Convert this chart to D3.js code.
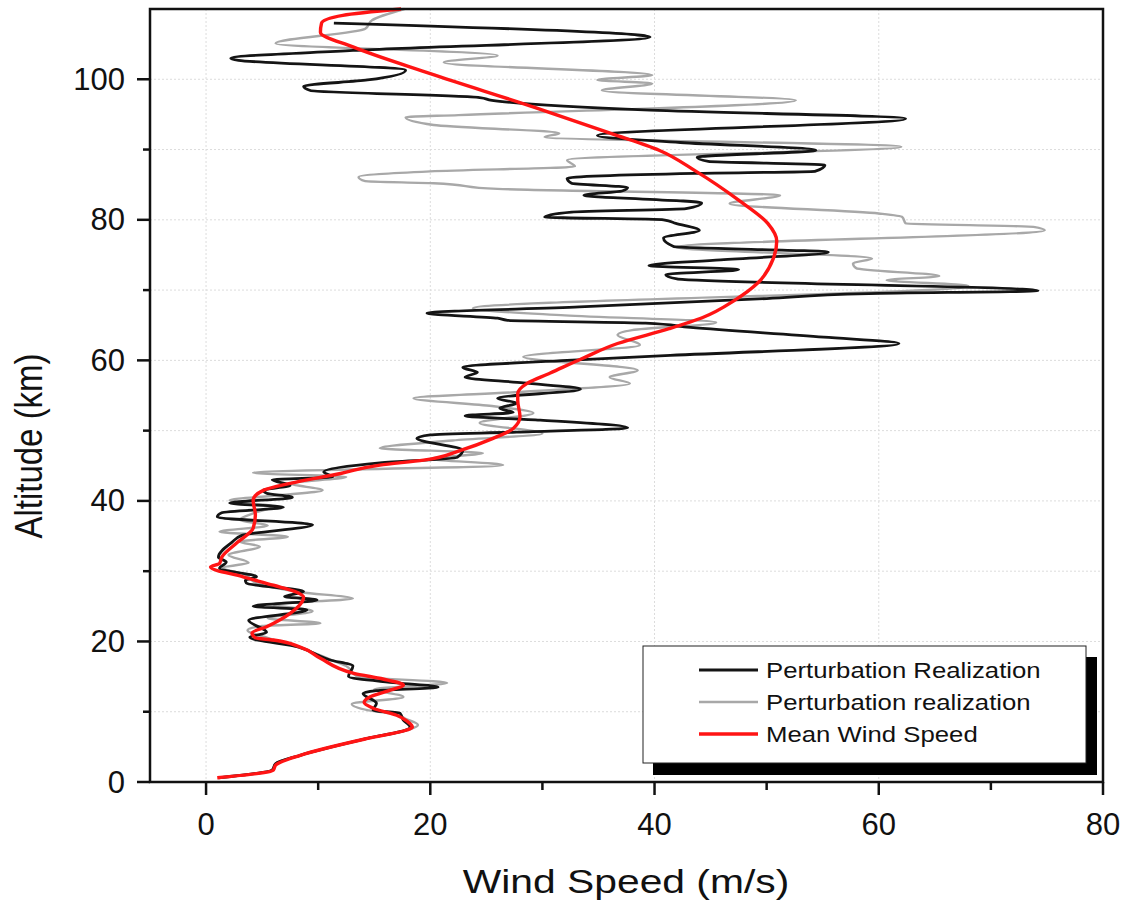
<!DOCTYPE html>
<html>
<head>
<meta charset="utf-8">
<script src="https://cdn.jsdelivr.net/npm/d3@7"></script>
<style>
    body { margin: 0; background: #fff; }
    text { font-family: "Liberation Sans", Arial, sans-serif; fill: #111; }
</style>
</head>
<body>
<svg id="chart" width="1126" height="910"></svg>
<script>
// mean wind speed profile
let meanAlt = [0.6, 1.7, 2.4, 3.8, 6.2, 7.4, 7.8, 8.7, 9.5, 10.5, 11.3, 12.1, 13.0, 13.8, 14.5, 15.5, 17.6, 19.2, 20.2, 20.5,
    21.2, 22.1, 24.0, 26.3, 27.0, 28.0, 29.2, 30.6, 31.1, 32.0, 34.1, 36.1, 38.0, 40.1, 41.5, 42.5, 43.9, 45.1, 45.8, 47.2,
    48.9, 50.3, 52.0, 54.3, 55.3, 56.7, 58.2, 60.3, 62.4, 64.5, 66.1, 68.6, 71.0, 74.5, 77.0, 79.5, 82.8, 87.0, 89.9, 92.3,
    96.0, 100.8, 104.6, 106.7, 108.0, 109.1, 110.0];
let meanSpeed = [1.0, 6.0, 6.2, 8.4, 14.4, 17.9, 18.4, 17.9, 17.0, 14.9, 14.1, 14.6, 16.3, 17.6, 16.2, 13.1, 10.2, 8.4, 6.0, 4.4,
    4.1, 5.4, 7.5, 8.7, 8.1, 6.0, 3.3, 0.4, 1.2, 1.4, 2.8, 4.2, 4.4, 4.2, 5.1, 7.5, 12.0, 15.5, 19.4, 22.7,
    25.6, 27.4, 28.0, 27.8, 27.8, 28.6, 30.7, 33.6, 36.7, 41.3, 44.3, 47.2, 49.2, 50.6, 50.9, 50.1, 47.5, 43.6, 40.4, 36.1,
    29.3, 20.0, 13.1, 10.2, 10.3, 12.2, 17.4];

// first perturbation realization (black)
let pertAAlt = [0.6, 1.7, 2.6, 3.8, 6.2, 7.5, 7.8, 8.8, 9.8, 10.2, 11.2, 12.6, 13.0, 13.5, 14.1, 15.0, 16.5, 17.4, 18.1, 19.2,
    20.6, 21.3, 23.0, 24.5, 25.0, 25.9, 26.4, 27.1, 28.3, 28.7, 29.2, 30.4, 31.3, 32.0, 34.1, 35.1, 36.6, 37.7, 38.3, 39.1,
    39.7, 40.5, 41.1, 41.5, 42.2, 43.0, 43.4, 44.1, 45.4, 46.2, 47.2, 48.9, 49.4, 49.8, 50.4, 51.5, 52.1, 52.6, 53.2, 53.9,
    54.6, 55.9, 56.8, 57.6, 58.3, 59.0, 60.0, 60.7, 62.4, 63.3, 64.7, 65.3, 65.7, 66.0, 66.7, 67.6, 68.8, 69.5, 69.9, 71.6,
    72.2, 72.9, 73.5, 74.3, 75.4, 76.2, 77.4, 78.5, 79.5, 80.0, 80.4, 81.1, 81.6, 82.4, 83.5, 84.1, 84.6, 85.2, 85.9, 86.6,
    86.9, 87.8, 88.3, 88.9, 89.9, 91.0, 92.0, 94.4, 95.6, 97.0, 97.4, 98.4, 99.0, 99.9, 101.3, 102.7, 103.0, 104.1, 106.0, 106.3,
    108.0];
let pertASpeed = [1.1, 5.9, 6.2, 8.4, 14.4, 18.0, 18.2, 17.6, 17.3, 14.9, 15.2, 14.0, 15.2, 20.7, 17.0, 12.7, 13.1, 11.0, 9.9, 8.3,
    3.9, 5.4, 3.8, 9.0, 4.2, 9.9, 7.0, 8.7, 3.6, 3.5, 4.5, 1.2, 1.8, 1.1, 2.3, 3.2, 9.5, 1.0, 1.4, 6.9,
    2.1, 7.7, 5.4, 5.1, 7.5, 5.9, 11.3, 10.5, 15.5, 22.4, 22.9, 18.8, 20.0, 27.7, 37.6, 29.8, 23.1, 27.4, 26.2, 27.7,
    26.0, 33.4, 28.3, 23.1, 24.2, 22.9, 32.2, 41.4, 61.8, 55.1, 43.2, 39.2, 26.9, 26.0, 19.7, 33.3, 50.0, 59.1, 74.2, 42.0,
    41.0, 47.5, 39.5, 45.9, 55.5, 41.7, 40.8, 44.0, 41.9, 40.8, 30.2, 32.6, 42.8, 44.2, 33.7, 37.1, 37.6, 32.6, 32.2, 43.6,
    54.3, 55.2, 44.8, 43.8, 54.4, 42.3, 34.9, 62.4, 39.6, 25.5, 24.4, 9.3, 8.7, 14.4, 17.8, 2.9, 2.2, 13.1, 39.6, 38.5,
    11.4];

// second perturbation realization (gray)
let pertBAlt = [0.6, 1.7, 2.6, 3.8, 6.2, 7.5, 8.1, 9.0, 9.6, 10.2, 11.1, 12.1, 13.2, 14.1, 15.0, 16.5, 17.5, 19.0, 20.5, 21.6,
    22.2, 22.6, 23.3, 24.3, 25.3, 26.1, 27.0, 28.3, 29.5, 30.5, 31.2, 32.3, 33.5, 34.2, 34.9, 35.6, 36.5, 37.3, 38.4, 39.2,
    40.1, 40.8, 41.5, 42.5, 43.4, 44.0, 45.1, 46.0, 46.8, 47.5, 48.6, 49.6, 51.1, 52.5, 53.5, 54.6, 55.5, 56.7, 57.6, 58.6,
    60.5, 62.2, 63.6, 64.3, 65.4, 66.4, 67.4, 70.6, 71.4, 72.0, 73.1, 73.8, 74.5, 76.1, 78.5, 79.0, 79.5, 80.4, 80.9, 82.3,
    83.5, 84.4, 85.2, 85.5, 86.1, 86.9, 87.6, 88.5, 90.4, 91.8, 92.3, 93.5, 94.6, 94.9, 97.0, 98.4, 99.4, 99.9, 100.6, 102.4,
    103.4, 105.1, 107.2, 108.4, 110.0];
let pertBSpeed = [1.1, 5.9, 6.2, 8.4, 14.4, 18.2, 18.9, 17.8, 17.0, 14.5, 13.0, 17.6, 15.0, 21.5, 13.5, 12.5, 11.0, 8.5, 5.5, 3.7,
    5.0, 10.2, 5.5, 9.5, 6.0, 13.1, 8.5, 4.5, 3.5, 1.5, 3.8, 2.0, 4.8, 3.0, 7.3, 1.2, 5.5, 3.0, 4.5, 6.0,
    2.1, 6.5, 10.4, 7.5, 12.5, 4.2, 26.5, 20.0, 24.7, 15.5, 22.0, 30.0, 24.4, 29.2, 25.5, 18.5, 28.0, 37.8, 36.0, 38.5,
    28.3, 38.7, 36.7, 38.0, 45.5, 32.0, 23.8, 68.0, 60.7, 65.4, 58.0, 57.7, 59.4, 41.9, 74.8, 73.8, 62.4, 62.1, 60.0, 46.7,
    51.2, 26.0, 20.3, 14.2, 13.6, 20.0, 32.9, 32.2, 62.0, 30.2, 31.5, 20.3, 17.8, 22.5, 52.6, 35.3, 39.8, 34.9, 39.8, 21.2,
    26.0, 6.2, 14.2, 14.8, 17.7];

// axes
let xMajorTicks = [0, 20, 40, 60, 80];
let xMinorTicks = [10, 30, 50, 70];
let yMajorTicks = [0, 20, 40, 60, 80, 100];
let yMinorTicks = [10, 30, 50, 70, 90];
let xGridTicks = [0, 20, 40, 60];
let yGridTicks = [10, 20, 30, 40, 50, 60, 70, 80, 90, 100];

let seriesNames = ["Perturbation Realization", "Perturbation realization", "Mean Wind Speed"];
let seriesColors = ["#141414", "#a8a8a8", "#ff1414"];
let seriesWidths = [2.8, 2.4, 3.4];

const margin = { left: 150, right: 23, top: 9, bottom: 128 };
const width = 1126 - margin.left - margin.right;
const height = 910 - margin.top - margin.bottom;

const svg = d3.select('#chart');
const g = svg.append('g').attr('transform', `translate(${margin.left},${margin.top})`);

const xScale = d3.scaleLinear().domain([-5, 80]).range([0, width]);
const yScale = d3.scaleLinear().domain([0, 110]).range([height, 0]);

// grid
g.append('g')
    .selectAll('line')
    .data(yGridTicks)
    .enter()
    .append('line')
    .attr('x1', 0)
    .attr('x2', width)
    .attr('y1', d => yScale(d))
    .attr('y2', d => yScale(d))
    .attr('stroke', '#dcdcdc')
    .attr('stroke-width', 1)
    .attr('stroke-dasharray', '2,2');

g.append('g')
    .selectAll('line')
    .data(xGridTicks)
    .enter()
    .append('line')
    .attr('x1', d => xScale(d))
    .attr('x2', d => xScale(d))
    .attr('y1', 0)
    .attr('y2', height)
    .attr('stroke', '#dcdcdc')
    .attr('stroke-width', 1)
    .attr('stroke-dasharray', '2,2');

// lines
function profile(alts, speeds) {
    return alts.map((a, i) => ({ alt: a, speed: speeds[i] }));
}

const line = d3.line()
    .x(d => xScale(d.speed))
    .y(d => yScale(d.alt))
    .curve(d3.curveMonotoneY);

const series = [
    { data: profile(pertBAlt, pertBSpeed), k: 1 },
    { data: profile(pertAAlt, pertASpeed), k: 0 },
    { data: profile(meanAlt, meanSpeed), k: 2 }
];

series.forEach(s => {
    g.append('path')
        .datum(s.data)
        .attr('d', line)
        .attr('fill', 'none')
        .attr('stroke', seriesColors[s.k])
        .attr('stroke-width', seriesWidths[s.k])
        .attr('stroke-linejoin', 'round');
});

// legend
const legend = g.append('g');
legend.append('rect')
    .attr('x', 503).attr('y', 648)
    .attr('width', 444).attr('height', 118)
    .attr('fill', '#000');
legend.append('rect')
    .attr('x', 493).attr('y', 637)
    .attr('width', 443).attr('height', 117)
    .attr('fill', '#fff')
    .attr('stroke', '#222')
    .attr('stroke-width', 1);

[0, 1, 2].forEach((k, i) => {
    let y = 661 + i * 32;
    legend.append('line')
        .attr('x1', 549).attr('x2', 608)
        .attr('y1', y).attr('y2', y)
        .attr('stroke', seriesColors[k])
        .attr('stroke-width', seriesWidths[k]);
    legend.append('text')
        .attr('transform', `translate(616,${y}) scale(1.17,1)`)
        .attr('dominant-baseline', 'central')
        .attr('font-size', 22)
        .text(seriesNames[k]);
});

// frame
g.append('rect')
    .attr('x', 0).attr('y', 0)
    .attr('width', width).attr('height', height)
    .attr('fill', 'none')
    .attr('stroke', '#111')
    .attr('stroke-width', 2.5);

// x axis
const xAxisG = g.append('g').attr('transform', `translate(0,${height})`);
xAxisG.selectAll('.major')
    .data(xMajorTicks)
    .enter()
    .append('line')
    .attr('x1', d => xScale(d)).attr('x2', d => xScale(d))
    .attr('y1', 0).attr('y2', 13)
    .attr('stroke', '#111').attr('stroke-width', 2.5);
xAxisG.selectAll('.minor')
    .data(xMinorTicks)
    .enter()
    .append('line')
    .attr('x1', d => xScale(d)).attr('x2', d => xScale(d))
    .attr('y1', 0).attr('y2', 8)
    .attr('stroke', '#111').attr('stroke-width', 2.5);
xAxisG.selectAll('text')
    .data(xMajorTicks)
    .enter()
    .append('text')
    .attr('x', d => xScale(d))
    .attr('y', 53)
    .attr('text-anchor', 'middle')
    .attr('font-size', 31)
    .text(d => d);

// y axis
const yAxisG = g.append('g');
yAxisG.selectAll('.major')
    .data(yMajorTicks)
    .enter()
    .append('line')
    .attr('x1', -13).attr('x2', 0)
    .attr('y1', d => yScale(d)).attr('y2', d => yScale(d))
    .attr('stroke', '#111').attr('stroke-width', 2.5);
yAxisG.selectAll('.minor')
    .data(yMinorTicks)
    .enter()
    .append('line')
    .attr('x1', -7).attr('x2', 0)
    .attr('y1', d => yScale(d)).attr('y2', d => yScale(d))
    .attr('stroke', '#111').attr('stroke-width', 2.5);
yAxisG.selectAll('text')
    .data(yMajorTicks)
    .enter()
    .append('text')
    .attr('x', -25)
    .attr('y', d => yScale(d))
    .attr('text-anchor', 'end')
    .attr('dominant-baseline', 'central')
    .attr('font-size', 31)
    .text(d => d);

// axis titles
svg.append('text')
    .attr('transform', 'translate(626,893) scale(1.2,1)')
    .attr('text-anchor', 'middle')
    .attr('font-size', 34)
    .text('Wind Speed (m/s)');

svg.append('text')
    .attr('transform', 'translate(42,446) scale(1.2,1) rotate(-90)')
    .attr('text-anchor', 'middle')
    .attr('font-size', 33)
    .text('Altitude (km)');
</script>
</body>
</html>
